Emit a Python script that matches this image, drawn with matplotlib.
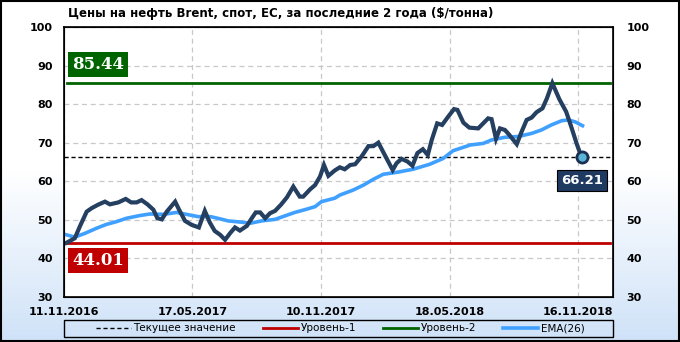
import numpy as np
import matplotlib
matplotlib.use("Agg")
from matplotlib import pyplot as plt
from matplotlib.lines import Line2D
from matplotlib.patches import Rectangle

# данные (номер недели от 11.11.2016, цена)
week = [0.5, 2.2, 3.2, 4.6, 5.6, 6.9, 8.3, 9.3, 11.0, 12.5, 13.6, 14.7, 15.7, 16.9, 18.1,
        18.9, 19.8, 20.8, 22.5, 23.3, 24.5, 25.8, 27.3, 28.5, 29.5, 30.5, 31.6, 32.6, 33.6,
        34.6, 35.6, 37.0, 38.0, 38.8, 39.7, 40.7, 41.7, 42.7, 43.9, 45.1, 46.4, 47.7, 48.4,
        49.8, 50.8, 51.8, 52.6, 53.5, 54.8, 55.8, 56.8, 57.9, 58.9, 60.2, 61.6, 62.6, 63.6,
        64.9, 66.5, 67.3, 68.3, 69.5, 70.5, 71.5, 72.6, 73.6, 74.4, 75.5, 76.5, 77.7, 78.9,
        79.6, 80.8, 82.0, 83.8, 84.8, 85.8, 86.5, 87.4, 88.2, 89.2, 90.1, 91.6, 92.6, 93.6,
        94.6, 95.6, 96.8, 97.7, 98.8, 100.2, 101.6, 102.6, 103.7, 104.7]
price = [44.01, 45.2, 48.2, 52.1, 53.0, 53.9, 54.7, 54.0, 54.5, 55.4, 54.5, 54.5, 55.1, 54.0, 52.6,
         50.4, 50.1, 52.1, 54.7, 52.6, 49.7, 48.7, 48.0, 52.3, 49.3, 47.1, 46.1, 44.8, 46.5,
         48.0, 47.2, 48.4, 50.4, 51.9, 51.9, 50.4, 51.7, 52.3, 53.9, 55.8, 58.6, 56.0, 56.0,
         57.9, 59.0, 61.2, 64.2, 61.4, 62.8, 63.6, 63.1, 64.2, 64.4, 66.4, 69.1, 69.1, 70.0,
         66.8, 62.9, 64.7, 65.8, 65.1, 64.0, 67.3, 68.3, 66.8, 70.7, 75.0, 74.6, 76.7, 78.7,
         78.5, 75.2, 73.9, 73.7, 75.0, 76.3, 76.1, 71.0, 73.7, 73.3, 72.0, 69.6, 72.9, 75.9,
         76.5, 77.9, 78.9, 81.5, 85.44, 81.3, 78.0, 74.2, 69.8, 66.21]

ema_week = [0.5, 2.2, 4.3, 6.6, 8.6, 10.6, 12.7, 15.4, 17.4, 20.1, 22.8, 24.8, 27.2, 29.7,
            31.7, 33.2, 35.7, 37.7, 40.0, 42.7, 44.7, 46.7, 48.7, 50.8, 52.1, 54.8, 55.8,
            58.5, 60.6, 62.6, 64.6, 67.3, 70.6, 74.0, 76.7, 78.7, 82.2, 84.8, 86.5, 89.2,
            91.9, 94.6, 96.6, 98.6, 100.7, 102.0, 103.4, 104.9]
ema = [46.1, 45.5, 46.5, 47.8, 48.8, 49.5, 50.4, 51.1, 51.5, 51.4, 51.9, 51.4, 50.8, 50.8,
       50.2, 49.7, 49.4, 49.1, 49.7, 50.1, 51.0, 51.9, 52.6, 53.4, 54.7, 55.6, 56.4,
       57.7, 59.0, 60.5, 61.8, 62.3, 63.1, 64.4, 65.9, 67.9, 69.4, 69.8, 70.7, 71.4,
       71.6, 72.4, 73.3, 74.6, 75.7, 75.9, 75.4, 74.4]

tick_pos = [0, 26, 52, 78, 104]
tick_labels = ['11.11.2016', '17.05.2017', '10.11.2017', '18.05.2018', '16.11.2018']

level1 = 44.01
level2 = 85.44
current = 66.21

fig = plt.figure(figsize=(6.8, 3.42), dpi=100)

# фон с градиентом
bg = fig.add_axes([0, 0, 1, 1], zorder=-10)
grad = np.linspace(0, 1, 256).reshape(-1, 1)
cmap = matplotlib.colors.LinearSegmentedColormap.from_list('bg', ['#ffffff', '#ffffff', '#cfe2f8'])
bg.imshow(grad, aspect='auto', cmap=cmap, extent=[0, 1, 0, 1], origin='upper')
bg.set_axis_off()
fig.patches.append(Rectangle((0.001, 0.002), 0.997, 0.995, transform=fig.transFigure,
                             fill=False, edgecolor='black', linewidth=1.5))

ax = fig.add_axes([0.094, 0.132, 0.807, 0.789])
ax.set_facecolor('white')
ax.set_xlim(0, 111)
ax.set_ylim(30, 100)
ax.set_yticks(range(30, 101, 10))
ax.set_xticks(tick_pos)
ax.set_xticklabels(tick_labels)
ax.grid(True, color='#c8c8c8', linestyle=(0, (4, 3)), linewidth=0.9)
ax.tick_params(axis='y', length=0, labelsize=8, pad=8)
ax.tick_params(axis='x', length=0, labelsize=8, pad=7)
for lab in ax.get_xticklabels() + ax.get_yticklabels():
    lab.set_fontweight('bold')
for s in ax.spines.values():
    s.set_linewidth(1.2)

ax2 = ax.twinx()
ax2.set_ylim(30, 100)
ax2.set_yticks(range(30, 101, 10))
ax2.tick_params(length=0, labelsize=8, pad=10)
for lab in ax2.get_yticklabels():
    lab.set_fontweight('bold')

ax.axhline(current, color='black', linestyle=(0, (3, 2)), linewidth=1.0, zorder=2)
ax.axhline(level1, color='#c00000', linewidth=2.0, xmin=0.005, xmax=0.995, zorder=2)
ax.axhline(level2, color='#006400', linewidth=2.0, xmin=0.005, xmax=0.995, zorder=2)
ax.plot(ema_week, ema, color='#3fa0ff', linewidth=2.6, zorder=3)
ax.plot(week, price, color='#243f60', linewidth=3.0, zorder=4, solid_joinstyle='miter')
ax.plot(week[-1], price[-1], 'o', markersize=8, markerfacecolor='#5ab4d6',
        markeredgecolor='#1b2f55', markeredgewidth=2, zorder=5)

ax.text(6.9, level2 + 4.9, '%.2f' % level2, color='white', fontsize=12, fontweight='bold',
        family='DejaVu Serif', ha='center', va='center', zorder=6,
        bbox=dict(boxstyle='square,pad=0.25', facecolor='#006400', edgecolor='none'))
ax.text(6.9, level1 - 4.5, '%.2f' % level1, color='white', fontsize=12, fontweight='bold',
        family='DejaVu Serif', ha='center', va='center', zorder=6,
        bbox=dict(boxstyle='square,pad=0.25', facecolor='#c00000', edgecolor='none'))
ax.text(104.8, current - 6.0, '%.2f' % current, color='white', fontsize=9.5, fontweight='bold',
        ha='center', va='center', zorder=6,
        bbox=dict(boxstyle='square,pad=0.3', facecolor='#1f3a60', edgecolor='black', linewidth=0.8))

fig.text(0.1, 0.96, 'Цены на нефть Brent, спот, ЕС, за последние 2 года ($/тонна)',
         fontsize=8.5, fontweight='bold', ha='left', va='center')

# рамка легенды
fig.patches.append(Rectangle((0.094, 0.015), 0.807, 0.05, transform=fig.transFigure,
                             fill=False, edgecolor='black', linewidth=1.0))
handles = [Line2D([], [], color='black', linestyle=(0, (3, 2)), linewidth=1.0),
           Line2D([], [], color='#c00000', linewidth=2),
           Line2D([], [], color='#006400', linewidth=2),
           Line2D([], [], color='#3fa0ff', linewidth=2.6)]
names = ['Текущее значение', 'Уровень-1', 'Уровень-2', 'EMA(26)']
leg = fig.legend(handles, names, loc='center', bbox_to_anchor=(0.5, 0.04),
                 ncol=4, fontsize=7.5, frameon=False,
                 borderpad=0.1, handlelength=3.4, handletextpad=0.2, columnspacing=2.6)

fig.savefig('out.png', dpi=100)
